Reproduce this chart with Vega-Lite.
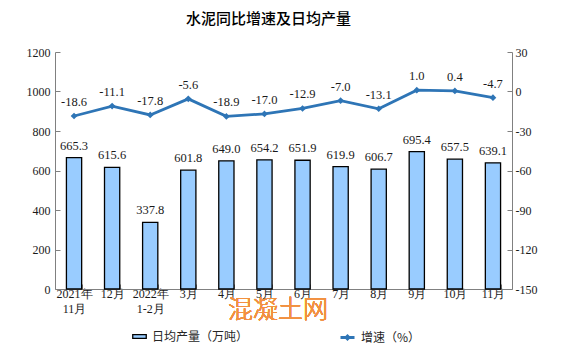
{
  "$schema": "https://vega.github.io/schema/vega-lite/v6.json",
  "width": 457,
  "height": 237,
  "autosize": {"type": "none"},
  "padding": {"left": 55, "top": 52, "right": 64, "bottom": 65},
  "title": {"text": "水泥同比增速及日均产量", "font": "Noto Sans CJK SC", "fontSize": 15, "fontWeight": 500, "color": "#000000", "offset": 19, "dx": -15},
  "config": {
    "locale": {"number": {"decimal": ".", "thousands": "", "grouping": [3], "currency": ["", ""], "minus": "-"}},
    "view": {"stroke": null},
    "axis": {"domainColor": "#808080", "tickColor": "#808080", "labelFont": "Liberation Serif", "labelFontSize": 12, "labelColor": "#1a1a1a", "grid": false, "title": null, "labelOverlap": false},
    "legend": {"labelFont": "Noto Sans CJK SC", "labelFontSize": 12, "labelColor": "#262626"}
  },
  "data": {"values": [
    {"month": "2021年|11月", "output": 665.3, "growth": -18.6},
    {"month": "12月", "output": 615.6, "growth": -11.1},
    {"month": "2022年|1-2月", "output": 337.8, "growth": -17.8},
    {"month": "3月", "output": 601.8, "growth": -5.6},
    {"month": "4月", "output": 649.0, "growth": -18.9},
    {"month": "5月", "output": 654.2, "growth": -17.0},
    {"month": "6月", "output": 651.9, "growth": -12.9},
    {"month": "7月", "output": 619.9, "growth": -7.0},
    {"month": "8月", "output": 606.7, "growth": -13.1},
    {"month": "9月", "output": 695.4, "growth": 1.0},
    {"month": "10月", "output": 657.5, "growth": 0.4},
    {"month": "11月", "output": 639.1, "growth": -4.7}
  ]},
  "encoding": {
    "x": {"field": "month", "type": "nominal", "sort": null,
      "scale": {"paddingInner": 0.6, "paddingOuter": 0.3},
      "axis": {"labelAngle": 0, "tickBand": "extent", "tickSize": -5, "labelPadding": 4, "labelExpr": "split(datum.label, '|')", "labelLineHeight": 15, "labelBaseline": "top"}}
  },
  "layer": [
    {
      "encoding": {
        "y": {"field": "output", "type": "quantitative", "scale": {"domain": [0, 1200], "nice": false, "padding": 0},
          "axis": {"values": [0, 200, 400, 600, 800, 1000, 1200], "format": "d", "tickSize": -5, "labelPadding": 10, "orient": "left"}}
      },
      "layer": [
        {
          "mark": {"type": "bar", "stroke": "#000000", "strokeWidth": 1.3},
          "encoding": {
            "fill": {"datum": "日均产量（万吨）", "type": "nominal", "scale": {"range": ["#99ccff"]},
              "legend": {"orient": "none", "legendX": 77, "legendY": 277, "title": null, "symbolType": "M-1,-0.27L1,-0.27L1,0.27L-1,0.27Z", "symbolSize": 182, "symbolStrokeColor": "#000000", "symbolStrokeWidth": 1.3, "labelOffset": 5}}
          }
        },
        {
          "mark": {"type": "text", "baseline": "bottom", "dy": -5, "font": "Liberation Serif", "fontSize": 12.5, "color": "#1a1a1a"},
          "encoding": {
            "text": {"field": "output", "type": "quantitative", "format": ".1f"}
          }
        },
        {
          "mark": {"type": "text", "font": "Noto Sans CJK SC", "fontSize": 25, "fontWeight": 300, "color": "#f2913f", "opacity": 0.8, "dx": 6, "text": "混凝土网"},
          "encoding": {
            "x": {"datum": "5月", "bandPosition": 1},
            "y": {"datum": -105}
          }
        }
      ]
    },
    {
      "encoding": {
        "y": {"field": "growth", "type": "quantitative", "scale": {"domain": [-150, 30], "nice": false, "padding": 0},
          "axis": {"orient": "right", "values": [-150, -120, -90, -60, -30, 0, 30], "tickSize": -5, "labelPadding": 8}}
      },
      "layer": [
        {
          "mark": {"type": "line", "color": "#2e75b6", "strokeWidth": 2.8},
          "encoding": {
            "stroke": {"datum": "增速（%）", "type": "nominal", "scale": {"range": ["#2e75b6"]},
              "legend": {"orient": "none", "legendX": 284, "legendY": 277, "title": null, "symbolType": "M-1,0L1,0M-0.22,0L0,-0.22L0.22,0L0,0.22Z", "symbolSize": 196, "symbolStrokeWidth": 2.8, "symbolFillColor": "#2e75b6", "labelOffset": 5}}
          }
        },
        {
          "mark": {"type": "point", "shape": "diamond", "filled": true, "color": "#2e75b6", "size": 45, "opacity": 1}
        },
        {
          "mark": {"type": "text", "baseline": "bottom", "dy": -7, "font": "Liberation Serif", "fontSize": 12.5, "color": "#1a1a1a"},
          "encoding": {
            "text": {"field": "growth", "type": "quantitative", "format": ".1f"}
          }
        }
      ]
    }
  ],
  "resolve": {"scale": {"y": "independent"}}
}
